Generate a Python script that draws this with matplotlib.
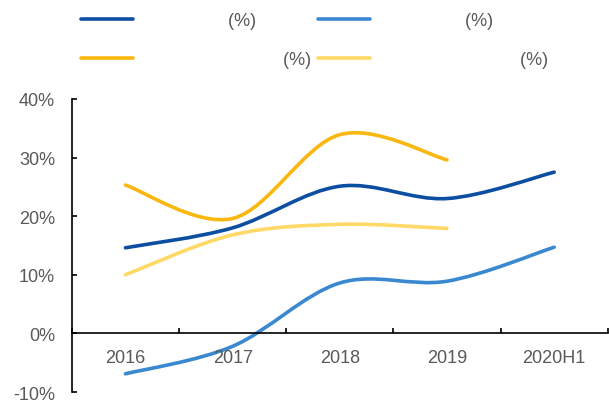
import numpy as np
import matplotlib
matplotlib.use("Agg")
import matplotlib.pyplot as plt
from matplotlib.path import Path
from matplotlib.patches import PathPatch
from matplotlib.lines import Line2D

plt.rcParams['font.family'] = ['Liberation Sans', 'Noto Sans CJK SC', 'DejaVu Sans']

# categories and values (%)
years = ["2016", "2017", "2018", "2019", "2020H1"]
s_darkblue = [14.6, 18.0, 25.1, 23.0, 27.5]
s_gold = [25.3, 19.6, 33.9, 29.6]
s_midblue = [-6.9, -2.2, 8.6, 8.9, 14.7]
s_lightyel = [10.0, 16.8, 18.6, 17.9]

# legend text: the category names were not rendered in the source, only "(%)"
lab_darkblue = " " * 16 + "(%)"
lab_gold = " " * 27 + "(%)"
lab_midblue = " " * 16 + "(%)"
lab_lightyel = " " * 27 + "(%)"

c_darkblue = "#0B4EA2"
c_gold = "#F9B70F"
c_midblue = "#3A88D0"
c_lightyel = "#FFD966"
grey = "#595959"


def smooth_path(xs, ys):
    # Excel-like smoothed line: cubic bezier segments (catmull-rom control points)
    p = np.column_stack([xs, ys]).astype(float)
    n = len(p)
    verts = [p[0]]
    codes = [Path.MOVETO]
    for i in range(n - 1):
        p0 = p[i - 1] if i > 0 else p[i]
        p3 = p[i + 2] if i + 2 < n else p[i + 1]
        c1 = p[i] + (p[i + 1] - p0) / 6.0
        c2 = p[i + 1] - (p3 - p[i]) / 6.0
        verts += [c1, c2, p[i + 1]]
        codes += [Path.CURVE4] * 3
    return Path(verts, codes)


fig = plt.figure(figsize=(6.09, 4.06), dpi=100)
ax = fig.add_axes([0.118, 0.032, 0.880, 0.722])

series = [(s_darkblue, c_darkblue, lab_darkblue),
          (s_gold, c_gold, lab_gold),
          (s_midblue, c_midblue, lab_midblue),
          (s_lightyel, c_lightyel, lab_lightyel)]
handles = []
for vals, col, lab in series:
    xs = np.arange(len(vals))
    patch = PathPatch(smooth_path(xs, vals), fill=False, edgecolor=col,
                      linewidth=2.6, capstyle='round', joinstyle='round')
    ax.add_patch(patch)
    handles.append(Line2D([], [], color=col, linewidth=2.6,
                          solid_capstyle='round', label=lab))

ax.set_xlim(-0.5, len(years) - 0.5)
ax.set_ylim(-10, 40)
ax.set_yticks([-10, 0, 10, 20, 30, 40])
ax.set_yticklabels([f"{v}%" for v in [-10, 0, 10, 20, 30, 40]])
ax.set_xticks(np.arange(len(years)))
ax.set_xticklabels(years)
ax.set_xticks(np.arange(len(years) + 1) - 0.5, minor=True)

ax.spines['top'].set_visible(False)
ax.spines['right'].set_visible(False)
ax.spines['bottom'].set_position(('data', 0))
for sp in ['left', 'bottom']:
    ax.spines[sp].set_linewidth(1.2)
    ax.spines[sp].set_color('black')

ax.tick_params(axis='x', which='major', length=0, pad=11, labelsize=13, labelcolor=grey)
ax.tick_params(axis='x', which='minor', direction='in', length=3.5, width=1.2)
ax.tick_params(axis='y', direction='in', length=3.5, width=1.2, pad=12,
               labelsize=13, labelcolor=grey)

leg = fig.legend(handles=handles, ncol=2, loc='upper left',
                 bbox_to_anchor=(0.121, 0.985), frameon=False, fontsize=13,
                 handlelength=2.9, handletextpad=0.8, columnspacing=0.4,
                 labelspacing=1.2, borderaxespad=0)
for t in leg.get_texts():
    t.set_color(grey)

fig.savefig("out.png", dpi=100)
